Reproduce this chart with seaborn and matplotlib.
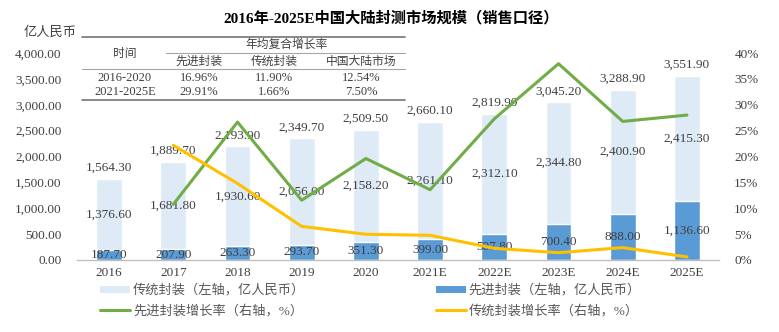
import matplotlib
matplotlib.use("Agg")
import matplotlib.pyplot as plt
from matplotlib.lines import Line2D
from matplotlib.patches import Patch
from matplotlib.ticker import FuncFormatter, MultipleLocator
import seaborn as sns
import pandas as pd

# ---- data (亿人民币) ----
years = ["2016", "2017", "2018", "2019", "2020", "2021E", "2022E", "2023E", "2024E", "2025E"]
advanced = [187.7, 207.9, 263.3, 293.7, 351.3, 399.0, 507.8, 700.4, 888.0, 1136.6]
traditional = [1376.6, 1681.8, 1930.6, 2056.0, 2158.2, 2261.1, 2312.1, 2344.8, 2400.9, 2415.3]
totals = [1564.3, 1889.7, 2193.9, 2349.7, 2509.5, 2660.1, 2819.9, 3045.2, 3288.9, 3551.9]

growth_years = ["2017", "2018", "2019", "2020", "2021E", "2022E", "2023E", "2024E", "2025E"]
adv_growth = [10.76, 26.65, 11.55, 19.61, 13.58, 27.27, 37.93, 26.78, 28.00]
trad_growth = [22.17, 14.79, 6.50, 4.97, 4.77, 2.26, 1.41, 2.39, 0.60]

# CAGR table
cagr_periods = ["2016-2020", "2021-2025E"]
cagr_advanced = ["16.96%", "29.91%"]
cagr_traditional = ["11.90%", "1.66%"]
cagr_market = ["12.54%", "7.50%"]

W, H = 779, 332
sns.set_theme(style="white")
FONT = ["Liberation Serif", "Noto Sans CJK SC"]
plt.rcParams["font.family"] = FONT
plt.rcParams["axes.unicode_minus"] = False

C_LIGHT = "#DEEBF7"
C_DARK = "#5B9BD5"
C_GREEN = "#70AD47"
C_YELLOW = "#FFC000"
C_TEXT = "#404040"


def fx(px):
    return px / W


def fy(py):
    return 1 - py / H


fig = plt.figure(figsize=(W / 100, H / 100), dpi=100)
ax = fig.add_axes([fx(77), fy(260), fx(719) - fx(77), fy(53) - fy(260)])

df = pd.DataFrame({"year": years, "advanced": advanced,
                   "traditional": traditional, "total": totals})

# stacked bars: full (light) column, advanced part overlaid at the base
sns.barplot(data=df, x="year", y="total", color=C_LIGHT, width=0.4,
            saturation=1, ax=ax, order=years)
sns.barplot(data=df, x="year", y="advanced", color=C_DARK, width=0.4,
            saturation=1, ax=ax, order=years)

ax.set_xlim(-0.5, len(years) - 0.5)
ax.set_ylim(0, 4000)
ax.yaxis.set_major_locator(MultipleLocator(500))
ax.yaxis.set_major_formatter(FuncFormatter(lambda v, p: f"{v:,.2f}"))
ax.set_xlabel("")
ax.set_ylabel("")
for s in ["top", "left", "right"]:
    ax.spines[s].set_visible(False)
ax.spines["bottom"].set_color("#BFBFBF")
ax.spines["bottom"].set_linewidth(1.0)
ax.tick_params(axis="y", length=0, pad=11, labelsize=9.5, labelcolor=C_TEXT)
ax.tick_params(axis="x", length=0, pad=5, labelsize=9.5, labelcolor=C_TEXT)

lab_kw = dict(ha="center", va="center", fontsize=9.5, color=C_TEXT)
for i, y in enumerate(years):
    a, t, tot = advanced[i], traditional[i], totals[i]
    ax.annotate(f"{tot:,.2f}", (i, tot), xytext=(0, 8), textcoords="offset points", **lab_kw)
    ax.text(i, a + t / 2, f"{t:,.2f}", **lab_kw)
    ax.text(i, a / 2, f"{a:,.2f}", **lab_kw)

# growth-rate lines on the right axis
ax2 = ax.twinx()
gx = [years.index(y) for y in growth_years]
sns.lineplot(x=gx, y=[v / 100 for v in adv_growth], color=C_GREEN, linewidth=2.2, ax=ax2)
sns.lineplot(x=gx, y=[v / 100 for v in trad_growth], color=C_YELLOW, linewidth=2.2, ax=ax2)
ax2.set_ylim(0, 0.40)
ax2.yaxis.set_major_locator(MultipleLocator(0.05))
ax2.yaxis.set_major_formatter(FuncFormatter(lambda v, p: f"{v * 100:.0f}%"))
for s in ["top", "left", "right", "bottom"]:
    ax2.spines[s].set_visible(False)
ax2.tick_params(axis="y", length=0, pad=11, labelsize=9.5, labelcolor=C_TEXT)
ax2.set_ylabel("")
ax.set_xlim(-0.5, len(years) - 0.5)

# title and unit
fig.text(fx(391), fy(18), "2016年-2025E中国大陆封测市场规模（销售口径）",
         ha="center", va="center", fontsize=11, fontweight="bold", color="black")
fig.text(fx(50), fy(33), "亿人民币", ha="center", va="center", fontsize=9.5, color=C_TEXT)

# CAGR table
def hline(y, x0, x1, lw, color):
    fig.add_artist(Line2D([fx(x0), fx(x1)], [fy(y), fy(y)], lw=lw, color=color,
                          transform=fig.transFigure))

hline(37, 82, 405, 1.3, "#7F7F7F")
hline(53, 166, 405, 0.8, "#A6A6A6")
hline(69, 82, 405, 0.8, "#A6A6A6")
hline(100, 82, 405, 1.3, "#7F7F7F")

tab_kw = dict(ha="center", va="center", color=C_TEXT)
fig.text(fx(125), fy(54), "时间", fontsize=8.5, **tab_kw)
fig.text(fx(287), fy(45), "年均复合增长率", fontsize=8.5, **tab_kw)
col_x = [199, 274, 361]
for x, h in zip(col_x, ["先进封装", "传统封装", "中国大陆市场"]):
    fig.text(fx(x), fy(62), h, fontsize=8.5, **tab_kw)
for r, yy in enumerate([78, 92]):
    fig.text(fx(125), fy(yy), cagr_periods[r], fontsize=9, **tab_kw)
    for x, col in zip(col_x, [cagr_advanced, cagr_traditional, cagr_market]):
        fig.text(fx(x), fy(yy), col[r], fontsize=9, **tab_kw)

# legend
handles = [
    Patch(facecolor=C_LIGHT, edgecolor="none"),
    Line2D([0], [0], color=C_GREEN, lw=2.2),
    Patch(facecolor=C_DARK, edgecolor="none"),
    Line2D([0], [0], color=C_YELLOW, lw=2.2),
]
labels = ["传统封装（左轴，亿人民币）", "先进封装增长率（右轴，%）",
          "先进封装（左轴，亿人民币）", "传统封装增长率（右轴，%）"]
leg = fig.legend(handles, labels, ncol=2, loc="upper left",
                 bbox_to_anchor=(fx(100), fy(284)), frameon=False,
                 fontsize=9.5, borderpad=0, borderaxespad=0,
                 handlelength=2.3, handleheight=0.45, handletextpad=0.2,
                 columnspacing=9.9, labelspacing=0.55)
for t in leg.get_texts():
    t.set_color("#595959")

fig.savefig("out.png", dpi=100)
